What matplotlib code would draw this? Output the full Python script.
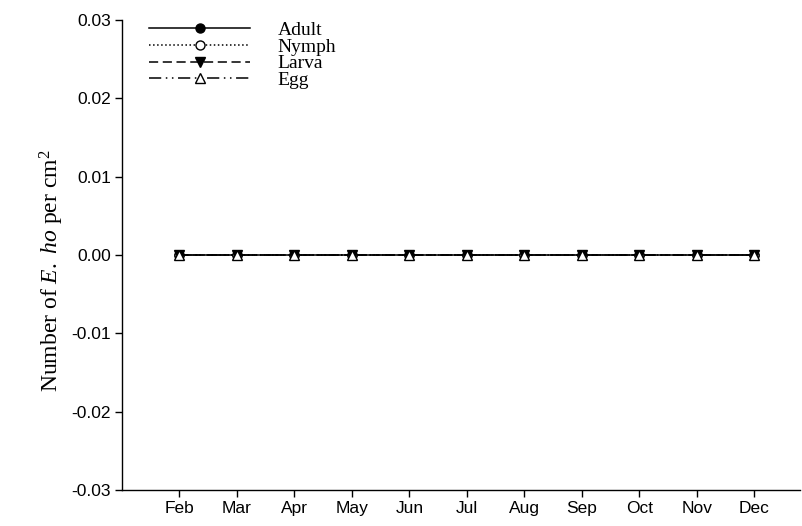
import matplotlib
matplotlib.use("Agg")
import matplotlib.pyplot as plt

plt.rcParams["mathtext.fontset"] = "custom"
plt.rcParams["mathtext.rm"] = "Liberation Serif"
plt.rcParams["mathtext.it"] = "Liberation Serif:italic"

months = ["Feb", "Mar", "Apr", "May", "Jun", "Jul", "Aug", "Sep", "Oct", "Nov", "Dec"]
month_num = [2, 3, 4, 5, 6, 7, 8, 9, 10, 11, 12]
adult = [0, 0, 0, 0, 0, 0, 0, 0, 0, 0, 0]
nymph = [0, 0, 0, 0, 0, 0, 0, 0, 0, 0, 0]
larva = [0, 0, 0, 0, 0, 0, 0, 0, 0, 0, 0]
egg = [0, 0, 0, 0, 0, 0, 0, 0, 0, 0, 0]
yticks = [-0.03, -0.02, -0.01, 0.00, 0.01, 0.02, 0.03]

fig = plt.figure(figsize=(8.02, 5.26), dpi=100)
ax = fig.add_axes([0.152, 0.0684, 0.846, 0.894])

ms = 6.5
ax.plot(month_num, adult, color="black", lw=1.1, ls="-", marker="o",
        mfc="black", mec="black", ms=ms, label="Adult")
ax.plot(month_num, nymph, color="black", lw=1.1, ls=":", marker="o",
        mfc="white", mec="black", ms=ms, label="Nymph")
ax.plot(month_num, larva, color="black", lw=1.1, ls=(0, (6, 3)), marker="v",
        mfc="black", mec="black", ms=ms, label="Larva")
ax.plot(month_num, egg, color="black", lw=1.1, ls=(0, (8, 3, 1, 3, 1, 3)), marker="^",
        mfc="white", mec="black", ms=ms, label="Egg")

ax.set_xlim(1.0, 12.8)
ax.set_ylim(-0.03, 0.03)
ax.set_xticks(month_num)
ax.set_xticklabels(months, family="Liberation Sans", fontsize=12.5)
ax.set_yticks(yticks)
ax.set_yticklabels([f"{v:.2f}" for v in yticks], family="Liberation Sans", fontsize=12.5)
ax.tick_params(direction="out", length=5, width=1, pad=3)
ax.tick_params(axis="x", pad=3)
for s in ["top", "right"]:
    ax.spines[s].set_visible(False)
for s in ["left", "bottom"]:
    ax.spines[s].set_linewidth(1)

ax.set_ylabel(r"Number of $\mathit{E.}$ $\mathit{ho}$ per cm$^{2}$", family="Liberation Serif",
              fontsize=17)
ax.yaxis.set_label_coords(-0.083, 0.466)

ax.legend(loc="upper left", bbox_to_anchor=(0.040, 0.997), frameon=False,
          prop={"family": "Liberation Serif", "size": 14}, handlelength=5.2,
          labelspacing=-0.04, handletextpad=1.4, borderaxespad=0, borderpad=0)

fig.savefig("out.png", dpi=100)
